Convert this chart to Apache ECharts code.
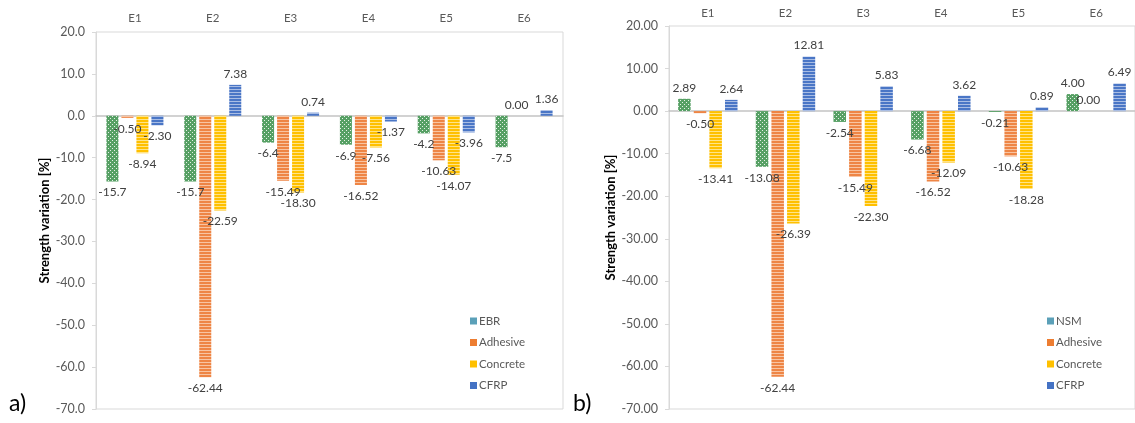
<!DOCTYPE html>
<html>
<head>
<meta charset="utf-8">
<script src="https://cdn.jsdelivr.net/npm/echarts@6/dist/echarts.min.js"></script>
<style>
html,body{margin:0;padding:0;background:#fff;}
#c{width:1135px;height:423px;}
</style>
</head>
<body>
<div id="c"></div>
<script>
// ---- data ----
const categories = ['E1', 'E2', 'E3', 'E4', 'E5', 'E6'];
const yTicksMin = -70, yTicksMax = 20, yTickStep = 10;

// chart a) EBR
const aEBR      = [-15.7, -15.7, -6.4, -6.9, -4.2, -7.5];
const aAdhesive = [-0.50, -62.44, -15.49, -16.52, -10.63, 0.00];
const aConcrete = [-8.94, -22.59, -18.30, -7.56, -14.07, null];
const aCFRP     = [-2.30, 7.38, 0.74, -1.37, -3.96, 1.36];

// chart b) NSM
const bNSM      = [2.89, -13.08, -2.54, -6.68, -0.21, 4.00];
const bAdhesive = [-0.50, -62.44, -15.49, -16.52, -10.63, 0.00];
const bConcrete = [-13.41, -26.39, -22.30, -12.09, -18.28, null];
const bCFRP     = [2.64, 12.81, 5.83, 3.62, 0.89, 6.49];

const yAxisName = 'Strength variation [%]';

// ---- patterns ----
function dots(base) {
  const c = document.createElement('canvas'); c.width = 4; c.height = 4;
  const g = c.getContext('2d');
  g.fillStyle = base; g.fillRect(0, 0, 4, 4);
  g.fillStyle = 'rgba(255,255,255,0.85)';
  g.fillRect(0, 0, 1, 1); g.fillRect(2, 2, 1, 1);
  return { image: c, repeat: 'repeat' };
}
function stripes(base, light) {
  const c = document.createElement('canvas'); c.width = 4; c.height = 3;
  const g = c.getContext('2d');
  g.fillStyle = base; g.fillRect(0, 0, 4, 3);
  g.fillStyle = light; g.fillRect(0, 2, 4, 1);
  return { image: c, repeat: 'repeat' };
}
const pGreen = dots('#56A064');
const pOrange = stripes('#EE8545', '#F8C4A2');
const pYellow = stripes('#FFC000', '#FFE488');
const pBlue = stripes('#4A76C6', '#A9BDE4');

const FONT = 'Lato, "Open Sans", sans-serif';
const labelColor = '#404040';
const axisTextColor = '#595959';

function mkSeries(name, data, pattern, xi, yi, dec, bw) {
  return {
    name: name, type: 'bar', xAxisIndex: xi, yAxisIndex: yi,
    data: data.map(v => (v === 0 ? { value: v, label: { position: 'top' } } : v)),
    barWidth: bw, barGap: '25%',
    itemStyle: { color: pattern },
    label: {
      show: true, position: 'outside', distance: 5,
      color: labelColor, fontSize: 12, fontFamily: FONT,
      formatter: p => (p.value == null ? '' : Number(p.value).toFixed(dec))
    }
  };
}

function yAxis(gi, dec, gap) {
  return {
    type: 'value', gridIndex: gi, min: yTicksMin, max: yTicksMax, interval: yTickStep,
    name: yAxisName, nameLocation: 'middle', nameGap: gap, nameRotate: 90,
    nameTextStyle: { color: '#000', fontWeight: 'bold', fontSize: 13, fontFamily: FONT },
    axisLine: { show: true, lineStyle: { color: '#d9d9d9' } },
    axisTick: { show: true, length: 4, lineStyle: { color: '#d9d9d9' } },
    splitLine: { show: false },
    axisLabel: { color: axisTextColor, fontSize: 12.5, fontFamily: FONT, margin: 11,
      formatter: v => v.toFixed(dec) }
  };
}
function xLabelAxis(gi, margin) {
  return {
    type: 'category', gridIndex: gi, data: categories, position: 'top',
    axisLine: { show: false, onZero: false }, axisTick: { show: false },
    axisLabel: { color: axisTextColor, fontSize: 11.5, fontFamily: FONT, margin: margin }
  };
}
function xZeroAxis(gi) {
  return {
    type: 'category', gridIndex: gi, data: categories,
    axisLine: { show: true, onZero: true, lineStyle: { color: '#c4c4c4', width: 1.5 } },
    axisTick: { show: false }, axisLabel: { show: false }
  };
}
function legend(first, left, top) {
  const sty = { EBR: '#5BA0B8', NSM: '#5BA0B8', Adhesive: '#ED7D31', Concrete: '#FFC000', CFRP: '#4472C4' };
  return {
    orient: 'vertical', left: left, top: top, itemGap: 9.5,
    itemWidth: 7, itemHeight: 7, icon: 'rect',
    textStyle: { color: axisTextColor, fontSize: 11.5, fontFamily: FONT, padding: [0, 0, 0, -3] },
    selectedMode: false,
    data: [first, 'Adhesive', 'Concrete', 'CFRP'].map(n => ({ name: n, itemStyle: { color: sty[n] } }))
  };
}

const chart = echarts.init(document.getElementById('c'), null, { renderer: 'canvas' });
chart.setOption({
  animation: false,
  backgroundColor: '#fff',
  grid: [
    { left: 96, top: 32, width: 467, height: 377, show: true, borderColor: '#d9d9d9', borderWidth: 1 },
    { left: 669, top: 26, width: 468, height: 383, show: true, borderColor: '#d9d9d9', borderWidth: 1 }
  ],
  xAxis: [xLabelAxis(0, 8), xZeroAxis(0), xLabelAxis(1, 7), xZeroAxis(1)],
  yAxis: [yAxis(0, 1, 42), yAxis(1, 2, 48)],
  legend: [legend('EBR', 465, 310), legend('NSM', 1042, 310)],
  series: [
    mkSeries('EBR', aEBR, pGreen, 0, 0, 1, 12),
    mkSeries('Adhesive', aAdhesive, pOrange, 0, 0, 2, 12),
    mkSeries('Concrete', aConcrete, pYellow, 0, 0, 2, 12),
    mkSeries('CFRP', aCFRP, pBlue, 0, 0, 2, 12),
    mkSeries('NSM', bNSM, pGreen, 2, 1, 2, 12.5),
    mkSeries('Adhesive', bAdhesive, pOrange, 2, 1, 2, 12.5),
    mkSeries('Concrete', bConcrete, pYellow, 2, 1, 2, 12.5),
    mkSeries('CFRP', bCFRP, pBlue, 2, 1, 2, 12.5)
  ],
  graphic: [
    { type: 'text', left: 9, top: 392, style: { text: 'a)', fontSize: 23, fontFamily: FONT, fill: '#000' } },
    { type: 'text', left: 573, top: 392, style: { text: 'b)', fontSize: 23, fontFamily: FONT, fill: '#000' } }
  ]
});
</script>
</body>
</html>
